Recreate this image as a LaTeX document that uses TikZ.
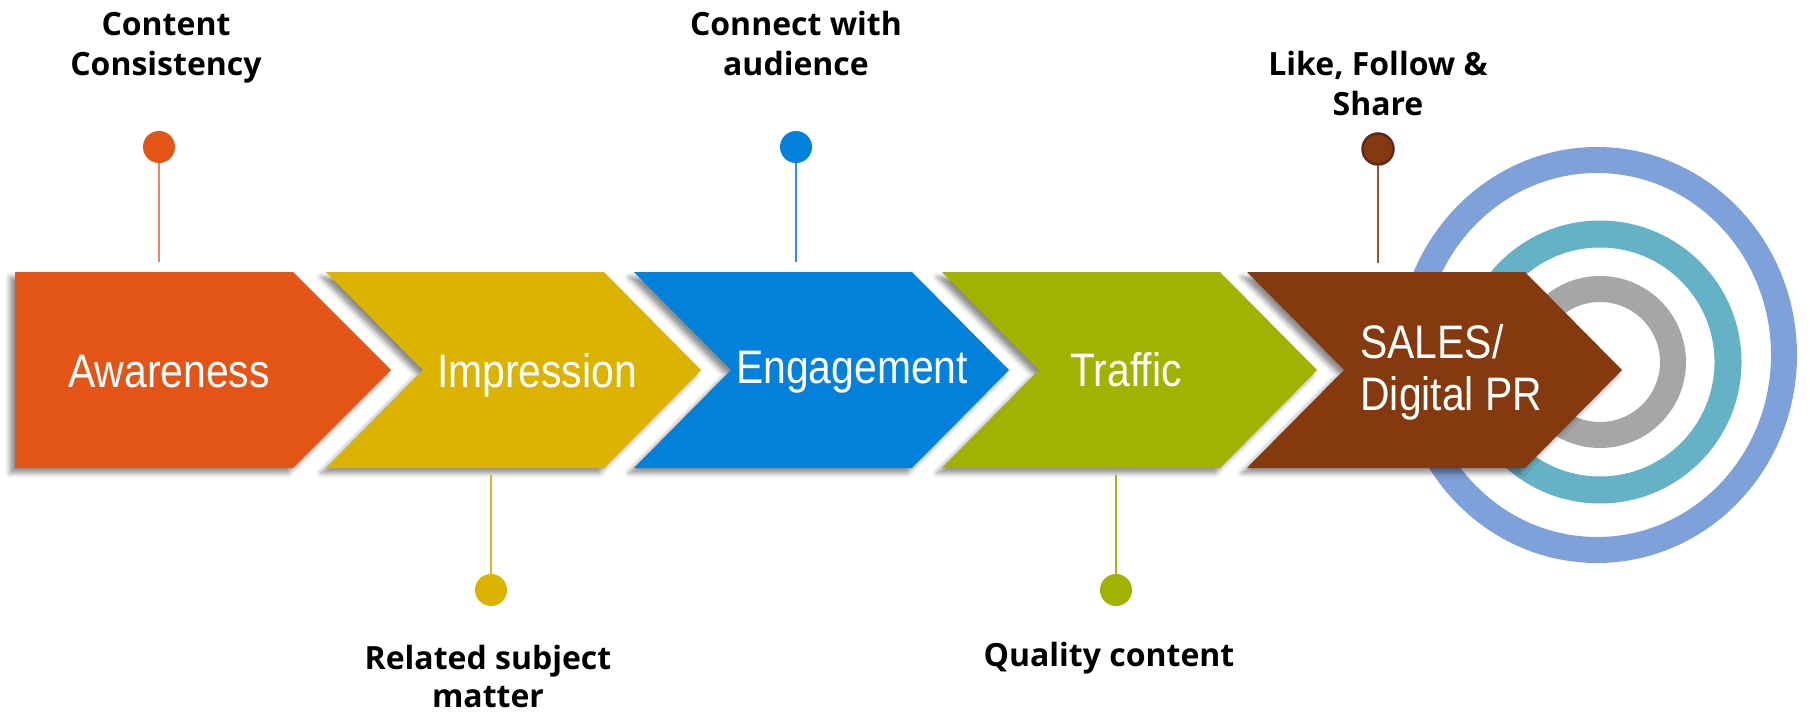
\documentclass[tikz,border=0pt]{standalone}
\usepackage{fontspec}
\usetikzlibrary{shadows.blur}
\newfontfamily\labelfont{Open Sans}
\newfontfamily\stagefont[FakeStretch=0.87]{Liberation Sans}
\definecolor{orangeA}{HTML}{E35417}
\definecolor{yellowA}{HTML}{DBB300}
\definecolor{blueA}{HTML}{0381DB}
\definecolor{greenA}{HTML}{A1B302}
\definecolor{brownA}{HTML}{84390E}
\definecolor{brownB}{HTML}{5C2A22}
\definecolor{orangeL}{HTML}{E9875B}
\definecolor{yellowL}{HTML}{DCB42A}
\definecolor{blueL}{HTML}{2F8EE0}
\definecolor{greenL}{HTML}{A5B515}
\definecolor{brownL}{HTML}{A0522D}
\definecolor{ringblue}{HTML}{7FA1DA}
\definecolor{ringteal}{HTML}{65B1C6}
\definecolor{ringgray}{HTML}{A6A6A6}

\begin{document}
\begin{tikzpicture}[x=1pt,y=-1pt,thick]
\tikzstyle{stage} = [blur shadow={shadow xshift=-5pt,shadow yshift=-5pt,shadow blur radius=5pt,shadow opacity=45}]
\tikzstyle{stagetext} = [text=white,anchor=base,font=\stagefont\fontsize{47}{52}\selectfont]
\tikzstyle{note} = [anchor=north,align=center,inner sep=0pt,font=\labelfont\bfseries\fontsize{32}{40}\selectfont]
\tikzstyle{dot} = [circle,inner sep=0pt,minimum size=32pt]
\tikzstyle{stem} = [line width=2pt]
\useasboundingbox (0,0) rectangle (1810,712);

% target rings
\draw[ringblue,line width=26pt] (1597,355) ellipse [x radius=187,y radius=195];
\draw[ringteal,line width=27pt] (1600,362) circle [radius=128];
\draw[ringgray,line width=26pt] (1600,362) circle [radius=73];

% chevrons
\fill[orangeA,stage] (15,272) -- (293,272) -- (391,370) -- (293,468) -- (15,468) -- cycle;
\fill[yellowA,stage] (326,272) -- (604,272) -- (701,370) -- (604,468) -- (326,468) -- (423,370) -- cycle;
\fill[blueA,stage] (634,272) -- (912,272) -- (1009,370) -- (912,468) -- (634,468) -- (731,370) -- cycle;
\fill[greenA,stage] (942,272) -- (1220,272) -- (1317,370) -- (1220,468) -- (942,468) -- (1039,370) -- cycle;
\fill[brownA,stage] (1247,272) -- (1525,272) -- (1622,370) -- (1525,468) -- (1247,468) -- (1344,370) -- cycle;

\node[stagetext] (aw) at (169,387) {Awareness};
\node[stagetext] (im) at (537,387) {Impression};
\node[stagetext] (en) at (852,383) {Engagement};
\node[stagetext] (tr) at (1126,386) {Traffic};
\node[stagetext,anchor=north west,align=left,inner sep=0pt] (sa) at (1360,324) {SALES/\\Digital PR};

% notes
\node[note] (cc) at (166,12) {Content\\Consistency};
\node[note] (ca) at (796,11) {Connect with\\audience};
\node[note] (lf) at (1378,51) {Like, Follow \&\\Share};
\node[note,font=\labelfont\bfseries\fontsize{32}{38}\selectfont] (rs) at (488,645) {Related subject\\matter};
\node[note] (qc) at (1109,642) {Quality content};

\node[dot,fill=orangeA] (d1) at (159,147) {};
\node[dot,fill=yellowA] (d2) at (491,590) {};
\node[dot,fill=blueA] (d3) at (796,147) {};
\node[dot,fill=greenA] (d4) at (1116,590) {};
\node[dot,fill=brownA,draw=brownB,line width=2.5pt,minimum size=31pt] (d5) at (1378,149) {};

\coordinate (t1) at (159,262);
\coordinate (t2) at (491,475);
\coordinate (t3) at (796,262);
\coordinate (t4) at (1116,475);
\coordinate (t5) at (1378,263);
\draw[stem,orangeL] (d1) -- (t1);
\draw[stem,yellowL] (d2) -- (t2);
\draw[stem,blueL] (d3) -- (t3);
\draw[stem,greenL] (d4) -- (t4);
\draw[stem,brownL] (d5) -- (t5);
\end{tikzpicture}
\end{document}
